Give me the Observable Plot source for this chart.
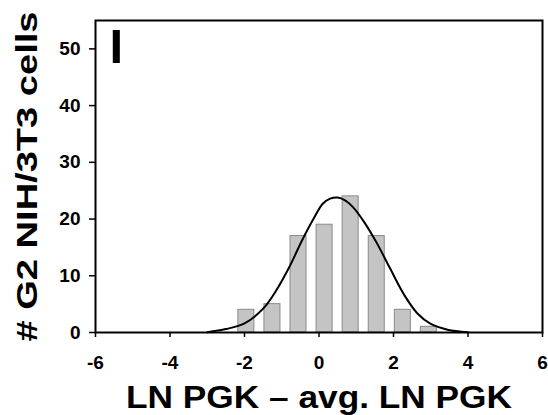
<!DOCTYPE html>
<html>
<head>
<meta charset="utf-8">
<script src="https://cdn.jsdelivr.net/npm/d3@7"></script>
<script src="https://cdn.jsdelivr.net/npm/@observablehq/plot@0.6"></script>
<style>
  html, body { margin: 0; padding: 0; background: #fff; }
  #chart svg { display: block; }
</style>
</head>
<body>
<div id="chart"></div>
<script>
// Histogram bins (centers, in LN PGK - avg. LN PGK) and counts
const binCenters = [-1.95, -1.25, -0.55, 0.15, 0.85, 1.55, 2.25, 2.95];
const binCounts  = [4, 5, 17, 19, 24, 17, 4, 1];

// Fitted curve, points
const curveX = [-3.0, -2.5, -2.0, -1.5, -1.15, -0.8, -0.45, -0.15, 0.1, 0.3, 0.5, 0.7, 0.9, 1.2, 1.55, 1.9, 2.3, 2.65, 3.0, 3.45, 4.0];
const curveY = [0.05, 0.6, 1.6, 4.2, 7.4, 11.5, 16.3, 20.0, 22.7, 23.6, 23.8, 23.3, 22.2, 19.6, 15.8, 11.4, 6.5, 3.3, 1.5, 0.5, 0.05];

const xTicks = [-6, -4, -2, 0, 2, 4, 6];
const yTicks = [0, 10, 20, 30, 40, 50];
const xTitle = "LN PGK – avg. LN PGK";
const yTitle = "# G2 NIH/3T3 cells";
const panelLabel = "I";

const bars = binCenters.map((c, i) => ({center: c, count: binCounts[i]}));
const curve = curveX.map((x, i) => ({x, y: curveY[i]}));
const halfWidth = 0.215;

const chart = Plot.plot({
  width: 548,
  height: 415,
  marginLeft: 95,
  marginRight: 6,
  marginTop: 20,
  marginBottom: 83,
  style: {fontFamily: "'Liberation Sans', Arial, sans-serif", fontWeight: "bold", background: "#fff", color: "#000"},
  x: {domain: [-6, 6]},
  y: {domain: [0, 55]},
  marks: [
    Plot.rectY(bars, {x1: d => d.center - halfWidth, x2: d => d.center + halfWidth, y1: 0, y2: "count", fill: "#c4c4c4", stroke: "#8a8a8a", strokeWidth: 1}),
    Plot.line(curve, {x: "x", y: "y", curve: "catmull-rom", stroke: "#000", strokeWidth: 2}),
    Plot.frame({stroke: "#000", strokeWidth: 2}),
    Plot.axisX({ticks: xTicks, tickSize: 5, tickPadding: 18, tickFormat: d => String(d), fontSize: 19, label: null, strokeWidth: 1.5}),
    Plot.axisY({ticks: yTicks, tickSize: 6, tickPadding: 9, tickFormat: d => String(d), fontSize: 19, label: null, strokeWidth: 1.5}),
    Plot.text([panelLabel], {frameAnchor: "top-left", text: d => d, textAnchor: "start", lineAnchor: "top", dx: 14, dy: 8, fontSize: 49, fontWeight: "bold"}),
    Plot.text([xTitle], {frameAnchor: "bottom", text: d => d, textAnchor: "middle", lineAnchor: "bottom", dy: 75, fontSize: 31, fontWeight: "bold"}),
    Plot.text([yTitle], {frameAnchor: "left", text: d => d, textAnchor: "middle", rotate: -90, lineAnchor: "bottom", dx: -59, fontSize: 30, fontWeight: "bold"})
  ]
});

d3.select(chart).selectAll("text").each(function() {
  const t = this.textContent;
  if (t === xTitle || t === yTitle) {
    this.setAttribute("text-anchor", "middle");
    this.setAttribute("textLength", t === xTitle ? 386 : 330);
    this.setAttribute("lengthAdjust", "spacingAndGlyphs");
  }
});

document.getElementById("chart").appendChild(chart);
</script>
</body>
</html>
